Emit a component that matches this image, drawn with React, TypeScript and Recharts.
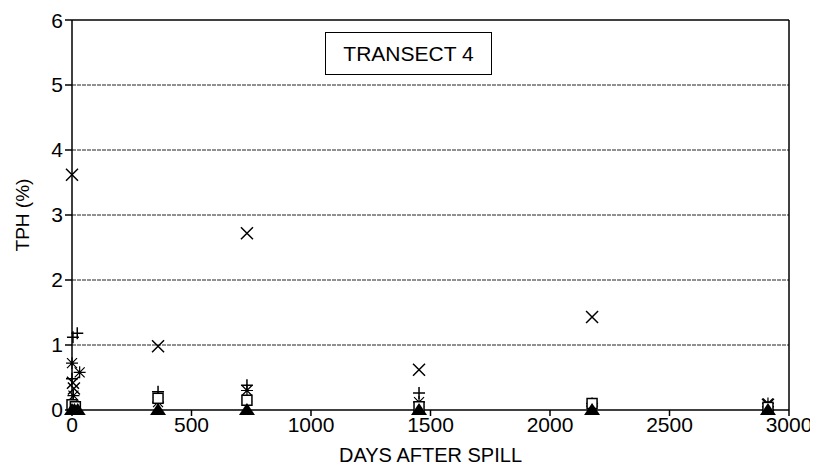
import {
  ScatterChart,
  Scatter,
  XAxis,
  YAxis,
  CartesianGrid,
  ReferenceLine,
} from "recharts";

// values (days after spill vs TPH %)
const xTicks = [0, 500, 1000, 1500, 2000, 2500, 3000];
const yTicks = [0, 1, 2, 3, 4, 5, 6];

const crossDays = [0, 4, 8, 360, 732, 1452, 2176, 2912];
const crossTph = [3.62, 0.42, 0.33, 0.98, 2.72, 0.62, 1.43, 0.08];

const plusDays = [4, 22, 0, 360, 732, 1452, 2176, 2912];
const plusTph = [1.12, 1.18, 0.48, 0.28, 0.38, 0.26, 0.1, 0.05];

const starDays = [0, 32, 6, 360, 732, 1452, 2176, 2912];
const starTph = [0.72, 0.58, 0.22, 0.12, 0.3, 0.12, 0.06, 0.1];

const squareDays = [0, 14, 360, 732, 1452, 2176, 2912];
const squareTph = [0.08, 0.05, 0.18, 0.15, 0.05, 0.1, 0.04];

const triDays = [0, 10, 24, 360, 732, 1452, 2176, 2912];
const triTph = [0, 0, 0, 0, 0, 0, 0, 0];

const pts = (days: number[], vals: number[]) =>
  days.map((d, i) => ({ day: d, tph: vals[i] }));

const INK = "#000";
const FONT = "'Liberation Sans', Arial, sans-serif";

const Cross = ({ cx, cy }: any) => (
  <path
    d={`M${cx - 6},${cy - 6}L${cx + 6},${cy + 6}M${cx + 6},${cy - 6}L${cx - 6},${cy + 6}`}
    stroke={INK}
    strokeWidth={1.5}
  />
);

const Plus = ({ cx, cy }: any) => (
  <path
    d={`M${cx - 6},${cy}L${cx + 6},${cy}M${cx},${cy - 6}L${cx},${cy + 6}`}
    stroke={INK}
    strokeWidth={1.5}
  />
);

const Star = ({ cx, cy }: any) => (
  <path
    d={`M${cx - 6},${cy}L${cx + 6},${cy}M${cx},${cy - 6}L${cx},${cy + 6}M${cx - 5},${cy - 5}L${cx + 5},${cy + 5}M${cx + 5},${cy - 5}L${cx - 5},${cy + 5}`}
    stroke={INK}
    strokeWidth={1.2}
  />
);

const Square = ({ cx, cy }: any) => (
  <rect x={cx - 5} y={cy - 5} width={10} height={10} fill="#fff" stroke={INK} strokeWidth={1.5} />
);

const Tri = ({ cx, cy }: any) => (
  <path d={`M${cx},${cy - 7}L${cx + 8},${cy + 5}L${cx - 8},${cy + 5}Z`} fill={INK} />
);

const YLabel = ({ viewBox }: any) => {
  const cy = viewBox.y + viewBox.height / 2;
  return (
    <text
      x={14}
      y={cy}
      transform={`rotate(-90, 14, ${cy})`}
      textAnchor="middle"
      dominantBaseline="central"
      fontFamily={FONT}
      fontSize={19}
      fill={INK}
    >
      TPH (%)
    </text>
  );
};

const XLabel = ({ viewBox }: any) => (
  <text
    x={viewBox.x + viewBox.width / 2}
    y={454}
    textAnchor="middle"
    fontFamily={FONT}
    fontSize={20}
    fill={INK}
  >
    DAYS AFTER SPILL
  </text>
);

export default function App() {
  const tick = { fill: INK, fontSize: 21, fontFamily: FONT };
  return (
    <div style={{ position: "relative", width: 810, height: 459 }}>
      <ScatterChart
        width={810}
        height={459}
        margin={{ top: 12, right: 29, left: 4, bottom: 17 }}
      >
        <CartesianGrid
          vertical={false}
          stroke="#222"
          strokeDasharray="4 1"
          horizontalValues={[1, 2, 3, 4, 5]}
        />
        <XAxis
          type="number"
          dataKey="day"
          domain={[0, 3000]}
          ticks={xTicks}
          height={40}
          tick={tick}
          tickSize={6}
          tickMargin={1}
          stroke={INK}
          strokeWidth={1.5}
          label={<XLabel />}
        />
        <YAxis
          type="number"
          dataKey="tph"
          domain={[0, 6]}
          ticks={yTicks}
          width={60}
          tick={tick}
          tickSize={7}
          tickMargin={2}
          stroke={INK}
          strokeWidth={1.5}
          label={<YLabel />}
        />
        <ReferenceLine y={6} stroke={INK} strokeWidth={1.5} />
        <ReferenceLine x={3000} stroke={INK} strokeWidth={1.5} />
        <Scatter data={pts(crossDays, crossTph)} shape={<Cross />} isAnimationActive={false} />
        <Scatter data={pts(plusDays, plusTph)} shape={<Plus />} isAnimationActive={false} />
        <Scatter data={pts(starDays, starTph)} shape={<Star />} isAnimationActive={false} />
        <Scatter data={pts(squareDays, squareTph)} shape={<Square />} isAnimationActive={false} />
        <Scatter data={pts(triDays, triTph)} shape={<Tri />} isAnimationActive={false} />
      </ScatterChart>
      <div
        style={{
          position: "absolute",
          left: 317,
          top: 24,
          width: 167,
          height: 43,
          border: "1.5px solid #000",
          boxSizing: "border-box",
          display: "flex",
          alignItems: "center",
          justifyContent: "center",
          fontFamily: FONT,
          fontSize: 21,
          color: INK,
          background: "#fff",
        }}
      >
        TRANSECT 4
      </div>
    </div>
  );
}
